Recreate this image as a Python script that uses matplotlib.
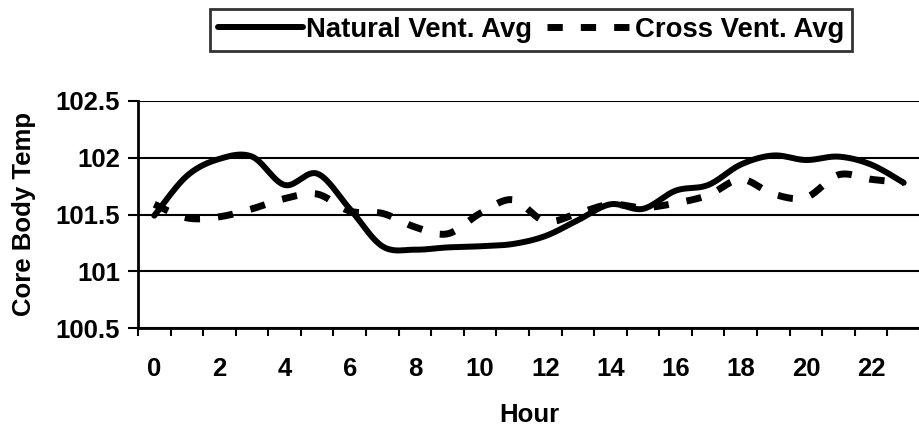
import numpy as np
import matplotlib
matplotlib.use("Agg")
import matplotlib.pyplot as plt

# hourly averages
hours = list(range(24))
natural = [101.49, 101.84, 101.99, 102.01, 101.76, 101.86, 101.55, 101.22, 101.19, 101.21,
           101.22, 101.24, 101.31, 101.45, 101.59, 101.55, 101.71, 101.76, 101.94, 102.02,
           101.98, 102.01, 101.94, 101.78]
cross = [101.59, 101.47, 101.48, 101.55, 101.64, 101.68, 101.53, 101.51, 101.39, 101.33,
         101.51, 101.63, 101.44, 101.51, 101.59, 101.56, 101.60, 101.67, 101.81, 101.68,
         101.65, 101.85, 101.81, 101.78]
xticks = list(range(0, 24, 2))
yticks = [100.5, 101, 101.5, 102, 102.5]
ylabels = ['100.5', '101', '101.5', '102', '102.5']


def smooth(x, y, n=20):
    # catmull-rom style smoothing like the spreadsheet's smoothed line
    x = np.asarray(x, float)
    y = np.asarray(y, float)
    px = np.concatenate([[x[0]], x, [x[-1]]])
    py = np.concatenate([[y[0]], y, [y[-1]]])
    xs, ys = [], []
    t = np.linspace(0, 1, n)
    for i in range(1, len(px) - 2):
        x0, x1, x2, x3 = px[i-1:i+3]
        y0, y1, y2, y3 = py[i-1:i+3]
        bx = [x1, x1 + (x2 - x0) / 6, x2 - (x3 - x1) / 6, x2]
        by = [y1, y1 + (y2 - y0) / 6, y2 - (y3 - y1) / 6, y2]
        c = [(1-t)**3, 3*(1-t)**2*t, 3*(1-t)*t**2, t**3]
        xs.append(sum(ci * b for ci, b in zip(c, bx)))
        ys.append(sum(ci * b for ci, b in zip(c, by)))
    return np.concatenate(xs), np.concatenate(ys)


plt.rcParams['font.family'] = ['Liberation Sans', 'DejaVu Sans']
plt.rcParams['font.weight'] = 'bold'
fs = 18.5

fig = plt.figure(figsize=(9.2, 4.28), dpi=100)
ax = fig.add_axes([138 / 920, 1 - 328 / 428, 1 - 138 / 920, 227 / 428])

sx, sy = smooth(hours, natural)
ax.plot(sx, sy, color='black', lw=4.3, solid_capstyle='round', label='Natural Vent. Avg')
cx, cy = smooth(hours, cross)
ax.plot(cx, cy, color='black', lw=5, dashes=(2.2, 2.6), dash_capstyle='butt',
        label='Cross Vent. Avg')

ax.set_xlim(-0.5, 23.45)
ax.set_ylim(100.5, 102.5)
ax.set_yticks(yticks)
ax.set_yticklabels(ylabels)
ax.set_xticks(xticks)
ax.set_xticks(np.arange(-0.5, 24, 1), minor=True)
ax.tick_params(axis='x', which='major', length=0, pad=21, labelsize=fs)
ax.tick_params(axis='x', which='minor', length=6, width=1.5, direction='out')
ax.tick_params(axis='y', length=7, width=1.5, direction='out', labelsize=fs, pad=6)

ax.grid(axis='y', color='black', lw=1.5)
ax.set_axisbelow(True)
for s in ['top', 'right']:
    ax.spines[s].set_visible(False)
for s in ['left', 'bottom']:
    ax.spines[s].set_linewidth(2)

ax.set_xlabel('Hour', fontsize=fs, fontweight='bold', labelpad=16)
ax.set_ylabel('Core Body Temp', fontsize=fs, fontweight='bold')
ax.yaxis.set_label_coords((36 - 138) / 782, 0.5)

leg = fig.legend(loc='center', bbox_to_anchor=(531 / 920, 1 - 30 / 428), ncol=2,
                 frameon=True, fancybox=False, handlelength=3.1,
                 handletextpad=0.1, columnspacing=0.55, borderpad=0.3,
                 borderaxespad=0, prop={'weight': 'bold', 'size': 19.8})
leg.get_frame().set_edgecolor('black')
leg.get_frame().set_linewidth(2)

fig.savefig('out.png', dpi=100)
